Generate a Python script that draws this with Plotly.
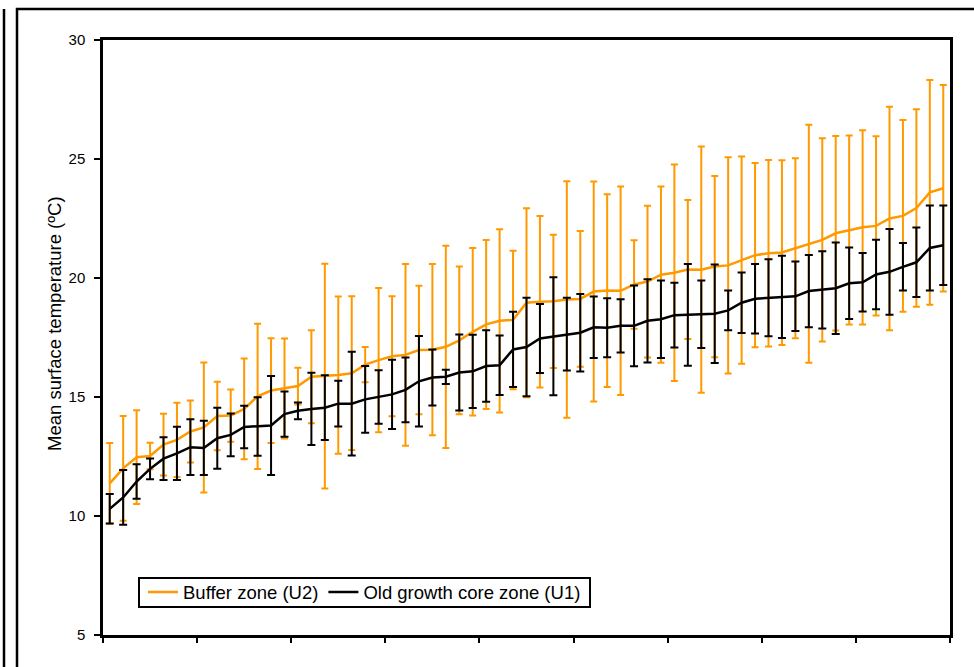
import plotly.graph_objects as go

# Site index (sorted by buffer-zone temperature)
sites = list(range(1, 64))

buffer_mean = [11.37, 12.0, 12.47, 12.52, 13.0, 13.2, 13.55, 13.72, 14.2, 14.22,
               14.5, 15.03, 15.27, 15.36, 15.46, 15.85, 15.88, 15.92, 16.0, 16.36,
               16.55, 16.71, 16.77, 16.97, 16.99, 17.11, 17.38, 17.74, 18.05, 18.2,
               18.24, 18.96, 19.0, 19.02, 19.1, 19.12, 19.43, 19.47, 19.46, 19.73,
               19.85, 20.14, 20.22, 20.36, 20.35, 20.48, 20.53, 20.75, 20.96, 21.04,
               21.07, 21.25, 21.44, 21.6, 21.88, 22.02, 22.13, 22.19, 22.5, 22.61,
               22.94, 23.6, 23.77]
buffer_err = [1.7, 2.2, 1.97, 0.56, 1.3, 1.56, 1.3, 2.73, 1.44, 1.1,
              2.12, 3.05, 2.2, 2.1, 0.77, 1.95, 4.72, 3.3, 3.23, 0.74,
              3.03, 2.52, 3.82, 2.7, 3.6, 4.25, 3.1, 3.52, 3.55, 3.85,
              2.91, 3.97, 3.6, 2.8, 4.97, 2.85, 4.62, 4.05, 4.38, 1.86,
              3.19, 3.7, 4.55, 2.92, 5.17, 3.81, 4.54, 4.35, 3.87, 3.92,
              3.88, 3.78, 5.0, 4.27, 4.09, 3.97, 4.08, 3.77, 4.7, 4.03,
              4.15, 4.72, 4.34]

core_mean = [10.3, 10.78, 11.45, 11.98, 12.41, 12.63, 12.89, 12.86, 13.27, 13.41,
             13.74, 13.76, 13.8, 14.28, 14.42, 14.5, 14.55, 14.72, 14.72, 14.9,
             15.0, 15.11, 15.3, 15.66, 15.82, 15.85, 16.03, 16.08, 16.3, 16.33,
             17.0, 17.1, 17.46, 17.55, 17.64, 17.7, 17.93, 17.91, 17.99, 17.99,
             18.2, 18.27, 18.44, 18.45, 18.48, 18.5, 18.64, 18.96, 19.13, 19.17,
             19.21, 19.23, 19.45, 19.5, 19.57, 19.78, 19.82, 20.15, 20.26, 20.47,
             20.66, 21.26, 21.38]
core_err = [0.62, 1.15, 0.72, 0.44, 0.9, 1.12, 1.17, 1.14, 1.28, 0.9,
            0.89, 1.23, 2.08, 0.95, 0.35, 1.52, 1.36, 0.96, 2.18, 1.4,
            1.12, 1.45, 1.36, 1.9, 1.18, 0.3, 1.6, 1.54, 1.5, 1.25,
            1.58, 2.07, 1.45, 2.48, 1.53, 1.63, 1.29, 1.24, 1.12, 1.7,
            1.75, 1.63, 1.36, 2.14, 1.42, 2.07, 0.84, 1.27, 1.46, 1.62,
            1.73, 1.46, 1.52, 1.62, 1.92, 1.5, 1.23, 1.46, 1.8, 1.0,
            1.46, 1.79, 1.67]

y_ticks = [5, 10, 15, 20, 25, 30]
x_tickvals = [0.5 + 7 * k for k in range(10)]

ORANGE = "#FF9900"
FONT = "Liberation Sans, Arial, sans-serif"

fig = go.Figure()
fig.add_trace(go.Scatter(
    x=sites, y=buffer_mean, mode="lines", name="Buffer zone (U2)",
    line=dict(color=ORANGE, width=2.5),
    error_y=dict(type="data", array=buffer_err, visible=True,
                 color=ORANGE, thickness=2, width=3.5),
))
fig.add_trace(go.Scatter(
    x=sites, y=core_mean, mode="lines", name="Old growth core zone (U1)",
    line=dict(color="black", width=2.5),
    error_y=dict(type="data", array=core_err, visible=True,
                 color="black", thickness=2, width=4),
))

L, T, W, H = 103, 40, 847, 595


def px(xp):
    return (xp - L) / W


def py(yp):
    return (T + H - yp) / H


fig.update_layout(
    width=974, height=667,
    margin=dict(l=L, r=974 - L - W, t=T, b=667 - T - H, pad=0),
    paper_bgcolor="white", plot_bgcolor="white",
    font=dict(family=FONT, color="black"),
    showlegend=True,
    legend=dict(
        orientation="h", x=px(143), y=py(592.5), xanchor="left", yanchor="middle",
        borderwidth=0, bgcolor="rgba(0,0,0,0)",
        font=dict(size=18.5, family=FONT), itemwidth=30,
        tracegroupgap=0,
    ),
    xaxis=dict(
        range=[0.5, 63.5], tickmode="array", tickvals=x_tickvals,
        showticklabels=False, ticks="outside", ticklen=5, tickwidth=2,
        tickcolor="black", showgrid=False, zeroline=False,
        showline=True, linecolor="black", linewidth=2.5, mirror=True,
    ),
    yaxis=dict(
        range=[5, 30], tickmode="array", tickvals=y_ticks,
        ticks="outside", ticklen=6, tickwidth=2, tickcolor="black",
        tickfont=dict(size=15, family=FONT), ticklabelstandoff=6,
        showgrid=False, zeroline=False,
        showline=True, linecolor="black", linewidth=2.5, mirror=True,
    ),
    annotations=[dict(
        text="Mean surface temperature (ºC)", textangle=-90,
        x=px(54), y=py(324), xref="paper", yref="paper",
        showarrow=False, font=dict(size=18.5, family=FONT),
        xanchor="center", yanchor="middle",
    )],
    shapes=[
        dict(type="line", xref="paper", yref="paper",
             x0=px(4), x1=px(4), y0=py(9), y1=py(680),
             line=dict(color="black", width=2.5)),
        dict(type="path", xref="paper", yref="paper",
             path=f"M {px(17)} {py(680)} L {px(17)} {py(9)} L {px(990)} {py(9)}",
             line=dict(color="black", width=2.5)),
        dict(type="rect", xref="paper", yref="paper", layer="below",
             x0=px(139), x1=px(590), y0=py(607), y1=py(578),
             line=dict(color="black", width=2), fillcolor="white"),
    ],
)

fig.write_html(
    "out.html",
    config={"displayModeBar": False},
    post_script="document.body.style.margin='0';document.body.style.overflow='hidden';",
)
